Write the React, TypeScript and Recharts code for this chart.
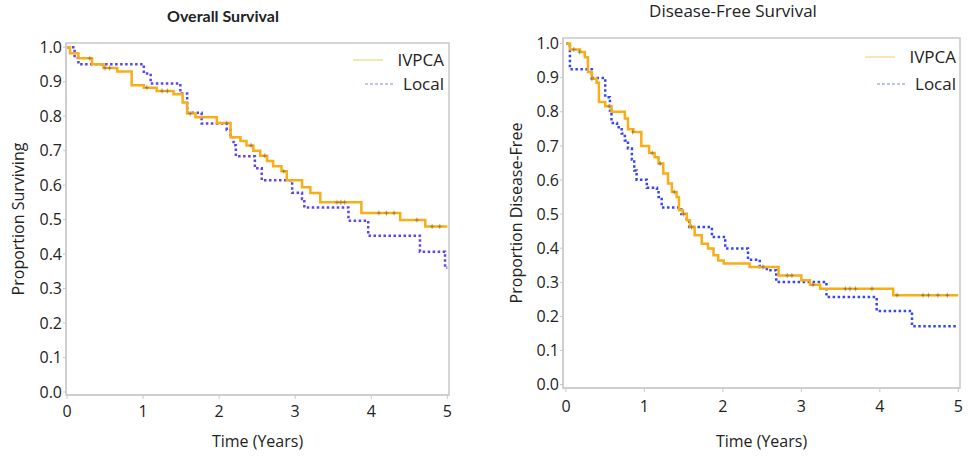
import { Label, Line, LineChart, ReferenceArea, XAxis, YAxis } from 'recharts';

// Overall survival – step times (years) and survival proportions
const OS_IVPCA_T = [0, 0.04, 0.15, 0.33, 0.48, 0.66, 0.85, 1.01, 1.18, 1.4, 1.52, 1.58, 1.69, 1.97, 2.15, 2.28, 2.36, 2.45, 2.54, 2.63, 2.71, 2.82, 2.89, 3.09, 3.2, 3.33, 3.87, 4.38, 4.71, 5];
const OS_IVPCA_S = [1.0, 0.983, 0.968, 0.951, 0.94, 0.93, 0.89, 0.883, 0.873, 0.864, 0.84, 0.808, 0.797, 0.78, 0.739, 0.728, 0.715, 0.7, 0.685, 0.67, 0.655, 0.64, 0.614, 0.594, 0.577, 0.55, 0.519, 0.499, 0.48, 0.48];
const OS_LOCAL_T = [0, 0.1, 0.15, 1.01, 1.1, 1.49, 1.58, 1.77, 2.1, 2.15, 2.19, 2.22, 2.47, 2.56, 2.96, 3.09, 3.12, 3.7, 3.96, 4.64, 4.97, 5];
const OS_LOCAL_S = [1.0, 0.97, 0.951, 0.924, 0.895, 0.866, 0.81, 0.779, 0.76, 0.739, 0.716, 0.684, 0.649, 0.614, 0.578, 0.56, 0.535, 0.497, 0.453, 0.407, 0.36, 0.36];
const OS_CENSOR_T = [0.3, 0.5, 0.56, 1.05, 1.25, 1.32, 1.62, 2.1, 2.42, 2.6, 2.85, 3.55, 3.6, 3.65, 4.1, 4.2, 4.3, 4.6, 4.8, 4.9];
const OS_CENSOR_S = [0.968, 0.94, 0.94, 0.883, 0.873, 0.873, 0.808, 0.78, 0.715, 0.685, 0.64, 0.55, 0.55, 0.55, 0.519, 0.519, 0.519, 0.499, 0.48, 0.48];

// Disease-free survival
const DFS_IVPCA_T = [0, 0.05, 0.18, 0.24, 0.28, 0.33, 0.39, 0.42, 0.5, 0.58, 0.75, 0.79, 0.86, 0.96, 1.06, 1.13, 1.18, 1.24, 1.3, 1.35, 1.41, 1.44, 1.49, 1.54, 1.58, 1.64, 1.73, 1.81, 1.88, 1.94, 2.01, 2.34, 2.71, 3.0, 3.11, 3.24, 4.17, 5];
const DFS_IVPCA_S = [1.0, 0.983, 0.975, 0.96, 0.917, 0.897, 0.885, 0.829, 0.816, 0.8, 0.78, 0.749, 0.741, 0.7, 0.679, 0.667, 0.648, 0.619, 0.59, 0.565, 0.55, 0.511, 0.5, 0.482, 0.462, 0.438, 0.413, 0.399, 0.379, 0.364, 0.355, 0.345, 0.32, 0.306, 0.293, 0.281, 0.262, 0.262];
const DFS_LOCAL_T = [0, 0.05, 0.33, 0.5, 0.56, 0.58, 0.65, 0.71, 0.75, 0.79, 0.84, 0.87, 0.9, 1.03, 1.16, 1.18, 1.22, 1.47, 1.54, 1.57, 1.86, 2.03, 2.32, 2.47, 2.56, 2.68, 3.32, 3.96, 4.41, 5];
const DFS_LOCAL_S = [1.0, 0.925, 0.899, 0.843, 0.804, 0.767, 0.755, 0.736, 0.716, 0.692, 0.66, 0.628, 0.601, 0.577, 0.57, 0.55, 0.519, 0.5, 0.48, 0.462, 0.433, 0.399, 0.366, 0.345, 0.335, 0.301, 0.257, 0.216, 0.171, 0.171];
const DFS_CENSOR_T = [0.1, 0.17, 0.33, 0.55, 0.85, 1.1, 1.2, 1.38, 1.5, 1.6, 2.51, 2.82, 2.88, 3.15, 3.56, 3.62, 3.69, 3.9, 4.22, 4.55, 4.62, 4.74, 4.86];
const DFS_CENSOR_S = [0.983, 0.975, 0.897, 0.816, 0.741, 0.679, 0.648, 0.565, 0.5, 0.462, 0.345, 0.32, 0.32, 0.293, 0.281, 0.281, 0.281, 0.281, 0.262, 0.262, 0.262, 0.262, 0.262];

const X_TICKS = [0, 1, 2, 3, 4, 5];
const Y_TICKS = [0, 0.1, 0.2, 0.3, 0.4, 0.5, 0.6, 0.7, 0.8, 0.9, 1.0];
const SERIES_NAMES = ['IVPCA', 'Local'];

const ORANGE = '#f8ae17';
const FONT = "'Open Sans', sans-serif";

const toPoints = (t: number[], s: number[]) => t.map((v, i) => ({ t: v, s: s[i] }));

function CensorMark(props: any) {
  const { cx, cy } = props;
  if (cx == null || cy == null) return <g />;
  return (
    <g stroke="#6b5a3a" strokeOpacity={0.5} strokeWidth={1.1}>
      <line x1={cx} x2={cx} y1={cy - 2.5} y2={cy + 2.5} />
      <line x1={cx - 2} x2={cx + 2} y1={cy} y2={cy} />
    </g>
  );
}

function KmLegend({ blue, rowHeight }: { blue: string; rowHeight: number }) {
  return (
    <div style={{ fontFamily: FONT, fontSize: 17, color: '#222', lineHeight: `${rowHeight}px` }}>
      {SERIES_NAMES.map((name, i) => (
        <div key={name} style={{ display: 'flex', alignItems: 'center', justifyContent: 'flex-end' }}>
          <svg width={32} height={10} style={{ marginRight: 6 }}>
            <line
              x1={0}
              x2={30}
              y1={5}
              y2={5}
              stroke={i === 0 ? ORANGE : blue}
              strokeOpacity={0.45}
              strokeWidth={1.5}
              strokeDasharray={i === 0 ? undefined : '3 2'}
            />
          </svg>
          <span style={{ width: i === 0 ? 53 : 41, textAlign: 'right' }}>{name}</span>
        </div>
      ))}
    </div>
  );
}

type PanelProps = {
  width: number;
  yAxisWidth: number;
  xAxisHeight: number;
  top: number;
  right: number;
  xDomain: [number, number];
  yDomain: [number, number];
  yLabel: string;
  yLabelOffset: number;
  tickMargin: number;
  blue: string;
  ivpca: { t: number; s: number }[];
  local: { t: number; s: number }[];
  censor: { t: number; s: number }[];
};

function KmPanel(p: PanelProps) {
  const axisTick = { fill: '#222', fontSize: 16, fontFamily: FONT };
  return (
    <LineChart
      width={p.width}
      height={461}
      margin={{ top: p.top, right: p.right, bottom: 8, left: 0 }}
    >
      <XAxis
        dataKey="t"
        type="number"
        domain={p.xDomain}
        ticks={X_TICKS}
        allowDataOverflow
        height={p.xAxisHeight}
        stroke="#c8c8c8"
        tick={axisTick}
        tickSize={4}
        tickMargin={p.tickMargin}
      >
        <Label
          value="Time (Years)"
          position="insideBottom"
          offset={6}
          style={{ fill: '#222', fontSize: 16, fontFamily: FONT }}
        />
      </XAxis>
      <YAxis
        type="number"
        domain={p.yDomain}
        ticks={Y_TICKS}
        allowDataOverflow
        width={p.yAxisWidth}
        stroke="#c8c8c8"
        tick={axisTick}
        tickSize={3}
        tickMargin={1}
        tickFormatter={(v: number) => v.toFixed(1)}
      >
        <Label
          value={p.yLabel}
          angle={-90}
          position="insideLeft"
          offset={p.yLabelOffset}
          style={{ textAnchor: 'middle', fill: '#222', fontSize: 16, fontFamily: FONT }}
        />
      </YAxis>
      <ReferenceArea
        x1={p.xDomain[0]}
        x2={p.xDomain[1]}
        y1={p.yDomain[0]}
        y2={p.yDomain[1]}
        fill="none"
        stroke="#c8c8c8"
        strokeWidth={1.5}
      />
      <Line
        data={p.local}
        dataKey="s"
        type="stepAfter"
        stroke={p.blue}
        strokeWidth={2.5}
        strokeDasharray="2.5 2.5"
        dot={false}
        isAnimationActive={false}
      />
      <Line
        data={p.ivpca}
        dataKey="s"
        type="stepAfter"
        stroke={ORANGE}
        strokeWidth={2.5}
        dot={false}
        isAnimationActive={false}
      />
      <Line
        data={p.censor}
        dataKey="s"
        stroke="none"
        dot={<CensorMark />}
        isAnimationActive={false}
      />
    </LineChart>
  );
}

export default function App() {
  return (
    <div style={{ position: 'absolute', left: 0, top: 0, width: 968, height: 461, background: '#fff', fontFamily: FONT }}>
      <div style={{ position: 'absolute', left: 0, top: 0 }}>
        <KmPanel
          width={460}
          yAxisWidth={66}
          xAxisHeight={58}
          top={43}
          right={11}
          xDomain={[-0.013, 5.022]}
          yDomain={[-0.009, 1.0125]}
          yLabel="Proportion Surviving"
          yLabelOffset={18}
          tickMargin={7}
          blue="#5b45f2"
          ivpca={toPoints(OS_IVPCA_T, OS_IVPCA_S)}
          local={toPoints(OS_LOCAL_T, OS_LOCAL_S)}
          censor={toPoints(OS_CENSOR_T, OS_CENSOR_S)}
        />
      </div>
      <div style={{ position: 'absolute', left: 490, top: 0 }}>
        <KmPanel
          width={478}
          yAxisWidth={73}
          xAxisHeight={65}
          top={38}
          right={8}
          xDomain={[-0.038, 5.022]}
          yDomain={[-0.01, 1.0164]}
          yLabel="Proportion Disease-Free"
          yLabelOffset={26}
          tickMargin={9}
          blue="#3547f5"
          ivpca={toPoints(DFS_IVPCA_T, DFS_IVPCA_S)}
          local={toPoints(DFS_LOCAL_T, DFS_LOCAL_S)}
          censor={toPoints(DFS_CENSOR_T, DFS_CENSOR_S)}
        />
      </div>
      <div style={{ position: 'absolute', left: 123, width: 200, top: 6, textAlign: 'center', fontFamily: 'Lato, sans-serif', fontWeight: 700, fontSize: 16, color: '#222' }}>
        Overall Survival
      </div>
      <div style={{ position: 'absolute', left: 583, width: 300, top: 0, lineHeight: '21px', textAlign: 'center', fontSize: 17, color: '#222' }}>
        Disease-Free Survival
      </div>
      <div style={{ position: 'absolute', left: 353, top: 48 }}>
        <KmLegend blue="#5b45f2" rowHeight={24} />
      </div>
      <div style={{ position: 'absolute', left: 865, top: 43 }}>
        <KmLegend blue="#3547f5" rowHeight={27} />
      </div>
    </div>
  );
}
